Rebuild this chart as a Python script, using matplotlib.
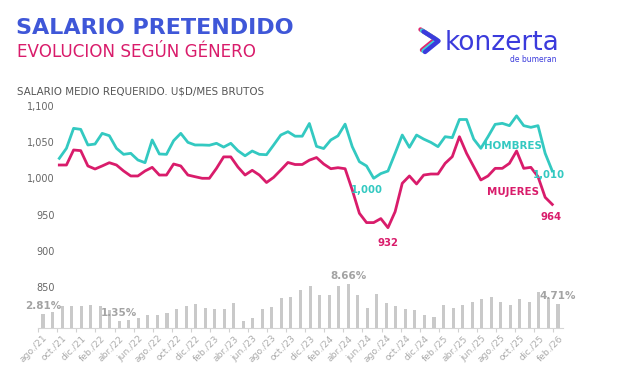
import matplotlib
matplotlib.use("Agg")
import matplotlib.pyplot as plt
from matplotlib.lines import Line2D

# ---------------- data ----------------
hombres = [1027.5, 1041.3, 1068.8, 1067.4, 1045.9, 1047.2, 1061.9, 1058.7, 1041.3, 1033.0,
           1034.4, 1025.2, 1021.5, 1052.8, 1033.5, 1033.0, 1051.8, 1061.9, 1049.5, 1045.9,
           1045.9, 1045.5, 1048.2, 1043.0, 1048.2, 1038.0, 1031.0, 1037.6, 1033.0, 1032.5,
           1045.9, 1059.6, 1064.2, 1058.0, 1058.0, 1075.5, 1044.0, 1041.0, 1052.8, 1058.5,
           1074.6, 1043.6, 1022.9, 1017.0, 1000.0, 1006.5, 1010.0, 1034.4, 1059.6, 1042.7,
           1059.6, 1054.0, 1049.5, 1043.6, 1057.3, 1056.0, 1081.0, 1081.0, 1054.0, 1041.3,
           1057.3, 1074.3, 1075.7, 1072.5, 1086.0, 1072.5, 1070.2, 1072.5, 1034.4, 1010.0]
mujeres = [1018.3, 1018.3, 1039.0, 1038.1, 1017.0, 1012.8, 1017.0, 1021.5, 1018.3, 1010.1,
           1003.2, 1003.2, 1010.1, 1015.1, 1004.5, 1004.5, 1019.7, 1017.0, 1004.5, 1002.2,
           1000.0, 1000.0, 1013.7, 1029.5, 1029.5, 1015.5, 1004.5, 1011.0, 1004.5, 994.2,
           1001.3, 1011.4, 1021.8, 1019.0, 1019.0, 1025.0, 1028.6, 1019.7, 1013.2, 1014.6,
           1013.2, 984.0, 951.8, 939.0, 939.0, 944.5, 932.0, 954.0, 993.1, 1003.2,
           992.2, 1004.5, 1005.9, 1005.9, 1020.6, 1029.8, 1057.3, 1034.4, 1016.0, 997.7,
           1003.2, 1013.7, 1013.7, 1020.6, 1037.6, 1013.7, 1015.1, 1002.2, 973.8, 964.0]
brecha = [2.81, 3.17, 4.42, 4.42, 4.30, 4.62, 4.30, 3.63, 1.35, 1.65,
          1.98, 2.58, 2.58, 2.91, 3.83, 4.30, 4.70, 4.02, 3.77, 3.77,
          4.90, 1.45, 1.98, 3.83, 4.22, 5.95, 6.14, 7.47, 8.38, 6.54,
          6.60, 8.38, 8.66, 6.60, 3.96, 6.80, 4.90, 4.30, 3.77, 3.63,
          2.52, 2.12, 4.50, 3.90, 4.50, 5.15, 5.81, 6.14, 5.15, 4.62,
          5.69, 5.21, 7.08, 5.95, 4.71]
tick_labels = ["ago./21", "oct./21", "dic./21", "feb./22", "abr./22", "jun./22", "ago./22",
               "oct./22", "dic./22", "feb./23", "abr./23", "jun./23", "ago./23", "oct./23",
               "dic./23", "feb./24", "abr./24", "jun./24", "ago./24", "oct./24", "dic./24",
               "feb./25", "abr./25", "jun./25", "ago./25", "oct./25", "dic./25", "feb./26"]
y_ticks = [850, 900, 950, 1000, 1050, 1100]
bar_label_idx = [0, 8, 32, 54]

# ---------------- style ----------------
TEAL = "#33C9C1"
PINK = "#D91C6B"
BLUE_T = "#3F57D8"
GREY_BAR = "#C9C9C9"
W, H = 625, 378
DPI = 100

fig = plt.figure(figsize=(W / DPI, H / DPI), dpi=DPI)
fig.patch.set_facecolor("white")

def fx(px):
    return px / W

def fy(py):
    return 1 - py / H

# plot box in pixels
BOX_L, BOX_R, BOX_T, BOX_B = 30, 575, 100, 328
rect = [fx(BOX_L), fy(BOX_B), fx(BOX_R - BOX_L), (BOX_B - BOX_T) / H]

# ---- bars axis ----
ax_b = fig.add_axes(rect)
bx0, bdx = 43.0, 9.537           # pixel of first bar centre and spacing
ax_b.set_xlim((BOX_L - bx0) / bdx, (BOX_R - bx0) / bdx)
ax_b.set_ylim(0, (BOX_B - BOX_T) * 0.1982)
xb = list(range(len(brecha)))
ax_b.bar(xb, brecha, width=0.32, color=GREY_BAR, zorder=2)
for i in bar_label_idx:
    ax_b.annotate(f"{brecha[i]:.2f}%", (xb[i], brecha[i]), xytext=(0, 3),
                  textcoords="offset pixels", ha="center", va="bottom",
                  fontsize=7.5, fontweight="bold", color="#A3A3A3", zorder=3)
ax_b.set_xticks(xb[::2])
ax_b.set_xticklabels(tick_labels, rotation=45, ha="right", va="top",
                     rotation_mode="anchor", fontsize=6.6, color="#ABABAB")
ax_b.tick_params(axis="x", which="major", length=0, pad=4)
ax_b.set_xticks([x - 0.5 for x in xb[::2]], minor=True)
ax_b.tick_params(axis="x", which="minor", length=3, color="#D0D0D0", width=0.8)
ax_b.set_yticks([])
for s in ["top", "right", "left"]:
    ax_b.spines[s].set_visible(False)
ax_b.spines["bottom"].set_color("#D5D5D5")
ax_b.spines["bottom"].set_bounds(-0.5, len(brecha) - 0.5)
ax_b.set_facecolor("none")

# ---- lines axis ----
ax_l = fig.add_axes(rect)
lx0, ldx = 59.3, 7.145
ax_l.set_xlim((BOX_L - lx0) / ldx, (BOX_R - lx0) / ldx)
pxu = 0.726
ax_l.set_ylim(1000 - (BOX_B - 178.3) / pxu, 1000 + (178.3 - BOX_T) / pxu)
xl = list(range(len(hombres)))
ax_l.plot(xl, hombres, color=TEAL, lw=2.0, solid_joinstyle="round", zorder=3)
ax_l.plot(xl, mujeres, color=PINK, lw=2.0, solid_joinstyle="round", zorder=3)
ax_l.set_yticks(y_ticks)
ax_l.set_yticklabels([f"{v:,}" for v in y_ticks], fontsize=7, color="#666666")
ax_l.tick_params(axis="y", length=0, pad=-18)
for t in ax_l.get_yticklabels():
    t.set_ha("right")
ax_l.set_xticks([])
for s in ax_l.spines.values():
    s.set_visible(False)
ax_l.patch.set_visible(False)

imin_h = hombres.index(min(hombres))
imin_m = mujeres.index(min(mujeres))
last = len(hombres) - 1
ax_l.annotate(f"{min(hombres):,.0f}", (imin_h, min(hombres)), xytext=(-7, -12),
              textcoords="offset pixels", ha="center", va="center",
              fontsize=7.3, fontweight="bold", color=TEAL)
ax_l.annotate(f"{min(mujeres):,.0f}", (imin_m, min(mujeres)), xytext=(0, -15),
              textcoords="offset pixels", ha="center", va="center",
              fontsize=7.3, fontweight="bold", color=PINK)
ax_l.annotate(f"{hombres[last]:,.0f}", (last, hombres[last]), xytext=(-3, -4),
              textcoords="offset pixels", ha="center", va="center",
              fontsize=7.3, fontweight="bold", color=TEAL)
ax_l.annotate(f"{mujeres[last]:,.0f}", (last, mujeres[last]), xytext=(-1, -13),
              textcoords="offset pixels", ha="center", va="center",
              fontsize=7.3, fontweight="bold", color=PINK)
ax_l.annotate("HOMBRES", (last, hombres[last]), xytext=(-39, 25),
              textcoords="offset pixels", ha="center", va="center",
              fontsize=7.4, fontweight="bold", color=TEAL)
ax_l.annotate("MUJERES", (last, mujeres[last]), xytext=(-39, 12.5),
              textcoords="offset pixels", ha="center", va="center",
              fontsize=7.4, fontweight="bold", color=PINK)

# ---- titles ----
fig.text(fx(16), fy(34), "SALARIO PRETENDIDO", fontsize=16, fontweight="bold",
         color=BLUE_T, va="baseline", ha="left")
fig.text(fx(17), fy(57), "EVOLUCION SEGÚN GÉNERO", fontsize=12.1,
         color=PINK, va="baseline", ha="left")
fig.text(fx(17), fy(95), "SALARIO MEDIO REQUERIDO. U$D/MES BRUTOS", fontsize=7.4,
         color="#555555", va="baseline", ha="left")

# ---- logo ----
LOGO = "#3B3BDC"
fig.text(fx(445), fy(50), "konzerta", fontsize=19, color=LOGO, va="baseline", ha="left")
fig.text(fx(557), fy(61.5), "de bumeran", fontsize=5.5, color=LOGO, va="baseline", ha="right")
for dx, dy, c in [(-3.0, -2.0, "#E3266E"), (-1.5, -1.0, "#3ED0D8"), (0, 0, LOGO)]:
    xs = [fx(423.5 + dx), fx(438.5 + dx), fx(425 + dx)]
    ys = [fy(31.5 + dy), fy(41 + dy), fy(52 + dy)]
    fig.add_artist(Line2D(xs, ys, color=c, lw=3.2, solid_capstyle="round",
                          solid_joinstyle="round", transform=fig.transFigure))

fig.savefig("out.png", dpi=DPI, facecolor="white")
